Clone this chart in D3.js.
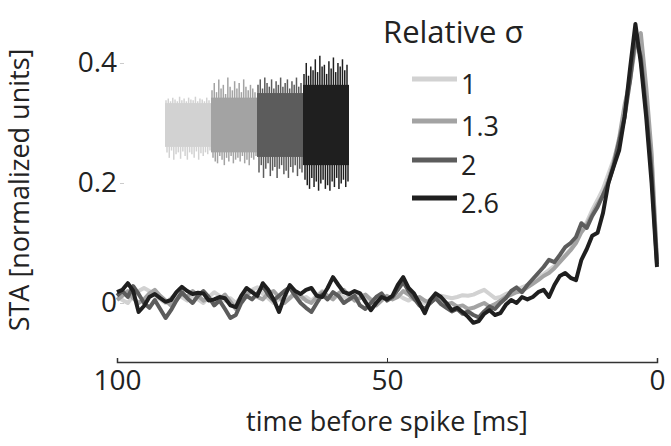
<!DOCTYPE html>
<html>
<head>
<meta charset="utf-8">
<script src="https://cdn.jsdelivr.net/npm/d3@7"></script>
<style>
  body { margin: 0; background: #fff; }
  svg text { font-family: "Open Sans", "Noto Sans", sans-serif; fill: #222; }
</style>
</head>
<body>
<div id="chart"></div>
<script>
// Data ==================================================================

// time before spike, ms (100 ... 0)
var times = d3.range(100, -1, -1);

var sigmaLabels = ['1', '1.3', '2', '2.6'];
var lineColors = ['#d2d2d2', '#a3a3a3', '#5c5c5c', '#1f1f1f'];

var xTicks = [100, 50, 0];
var yTicks = [0, 0.2, 0.4];

// STA values for t = 100 .. 0
var sta1 = [
	0.010, 0.005, 0.000, 0.012, 0.020, 0.025, 0.020, 0.012, 0.006, 0.000,
	0.008, 0.015, 0.010, 0.004, 0.012, 0.006, 0.000, 0.010, 0.018, 0.012,
	0.004, 0.008, 0.000, 0.010, 0.018, 0.022, 0.026, 0.015, 0.008, 0.000,
	0.006, 0.012, 0.008, 0.014, 0.006, 0.010, 0.004, 0.012, 0.020, 0.012,
	0.008, 0.014, 0.010, 0.005, 0.012, 0.016, 0.010, 0.004, 0.008, 0.012,
	0.006, 0.010, 0.014, 0.008, 0.004, 0.010, 0.006, 0.000, 0.005, 0.010,
	0.012, 0.010, 0.008, 0.010, 0.013, 0.012, 0.014, 0.018, 0.022, 0.015,
	0.008, 0.010, 0.015, 0.018, 0.022, 0.026, 0.030, 0.035, 0.042, 0.048,
	0.055, 0.062, 0.070, 0.080, 0.090, 0.105, 0.120, 0.135, 0.155, 0.172,
	0.190, 0.215, 0.240, 0.270, 0.320, 0.380, 0.440, 0.430, 0.340, 0.240,
	0.070
];
var sta13 = [
	0.005, 0.012, 0.020, 0.008, 0.000, 0.006, 0.016, 0.022, 0.012, 0.004,
	-0.004, 0.006, 0.015, 0.010, 0.020, 0.012, 0.004, 0.008, 0.000, 0.006,
	0.014, 0.002, -0.010, 0.004, 0.014, 0.020, 0.010, 0.006, 0.016, 0.020,
	0.010, 0.000, 0.008, 0.018, 0.012, 0.004, 0.000, 0.010, 0.018, 0.012,
	0.006, 0.016, 0.022, 0.012, 0.004, 0.008, 0.014, 0.006, -0.004, 0.004,
	0.012, 0.006, 0.010, 0.020, 0.014, 0.006, 0.010, 0.004, 0.000, 0.008,
	0.004, -0.002, 0.000, -0.006, -0.004, -0.010, -0.008, -0.004, 0.000, -0.006,
	-0.002, 0.004, 0.010, 0.014, 0.018, 0.020, 0.026, 0.032, 0.038, 0.045,
	0.050, 0.058, 0.068, 0.078, 0.088, 0.100, 0.118, 0.130, 0.148, 0.165,
	0.180, 0.205, 0.235, 0.275, 0.330, 0.370, 0.430, 0.450, 0.360, 0.250,
	0.070
];
var sta2 = [
	0.012, 0.020, 0.010, 0.028, 0.015, 0.000, -0.008, 0.005, -0.010, -0.025,
	-0.012, 0.004, 0.018, 0.008, 0.000, 0.012, 0.020, 0.010, -0.004, 0.004,
	-0.010, -0.025, -0.020, 0.000, 0.012, 0.006, 0.016, 0.028, 0.014, 0.004,
	0.012, 0.020, 0.026, 0.012, 0.000, -0.008, -0.015, 0.000, 0.014, 0.006,
	0.018, 0.012, 0.000, 0.006, 0.012, -0.004, -0.010, 0.000, 0.010, 0.016,
	0.004, 0.010, 0.022, 0.035, 0.020, 0.008, -0.004, -0.010, 0.000, 0.008,
	-0.002, -0.008, -0.014, -0.010, -0.018, -0.014, -0.020, -0.024, -0.014, -0.006,
	-0.010, 0.000, 0.008, 0.020, 0.026, 0.018, 0.030, 0.040, 0.050, 0.060,
	0.072, 0.068, 0.080, 0.093, 0.100, 0.110, 0.133, 0.125, 0.145, 0.160,
	0.180, 0.200, 0.230, 0.270, 0.310, 0.370, 0.445, 0.410, 0.320, 0.220,
	0.065
];
var sta26 = [
	0.018, 0.022, 0.033, 0.020, -0.015, -0.005, 0.010, 0.015, 0.008, 0.002,
	0.005, 0.018, 0.027, 0.020, 0.015, 0.017, 0.016, 0.004, 0.006, 0.010,
	0.008, -0.004, -0.007, 0.012, 0.025, 0.018, 0.012, 0.033, 0.022, 0.006,
	-0.015, 0.010, 0.030, 0.020, 0.015, 0.022, 0.025, 0.012, 0.010, 0.025,
	0.043, 0.030, 0.018, 0.015, 0.020, 0.016, 0.002, -0.012, 0.000, 0.010,
	0.006, 0.012, 0.030, 0.043, 0.025, 0.016, 0.000, -0.017, 0.005, 0.016,
	0.010, 0.000, -0.012, -0.008, -0.015, -0.023, -0.033, -0.030, -0.018, -0.012,
	-0.020, -0.017, -0.003, 0.005, 0.000, 0.010, 0.006, 0.010, 0.018, 0.022,
	0.010, 0.030, 0.045, 0.050, 0.042, 0.038, 0.072, 0.090, 0.112, 0.117,
	0.150, 0.200, 0.228, 0.255, 0.310, 0.390, 0.465, 0.400, 0.310, 0.200,
	0.060
];
var series = [sta1, sta13, sta2, sta26];

// inset: stimulus noise, envelope of each block (in units of the lowest sigma)
var noiseCore = [1.2, 1.5, 1.75, 2.2];
var noiseTop1 = [1.35, 1.45, 1.3, 1.5, 1.4, 1.3, 1.55, 1.35, 1.45, 1.3, 1.5, 1.4, 1.35, 1.55, 1.3, 1.45, 1.4, 1.3, 1.5, 1.35];
var noiseBot1 = [1.5, 1.8, 1.4, 1.9, 1.6, 1.5, 1.85, 1.45, 1.7, 1.9, 1.5, 1.6, 1.8, 1.45, 1.9, 1.55, 1.7, 1.5, 1.6, 1.4];
var noiseTop13 = [1.9, 2.3, 1.8, 2.5, 2.0, 2.2, 1.7, 2.6, 2.1, 1.9, 2.4, 2.0, 2.3, 1.8, 2.5, 2.1, 1.9, 2.2, 2.0, 1.8];
var noiseBot13 = [1.8, 2.0, 2.1, 1.7, 1.9, 2.2, 1.8, 2.0, 1.7, 2.1, 1.9, 1.8, 2.0, 1.7, 2.1, 1.9, 2.2, 1.8, 1.9, 1.7];
var noiseTop2 = [2.2, 2.5, 2.0, 2.6, 2.3, 2.1, 2.5, 2.0, 2.4, 2.2, 2.6, 2.1, 2.3, 2.5, 2.0, 2.4, 2.2, 2.6, 2.1, 2.3];
var noiseBot2 = [2.6, 2.2, 2.9, 2.4, 2.1, 2.8, 2.5, 2.3, 2.9, 2.4, 2.2, 2.7, 2.5, 2.9, 2.3, 2.6, 2.2, 2.8, 2.4, 2.6];
var noiseTop26 = [2.8, 3.4, 2.7, 3.2, 3.0, 3.6, 2.9, 3.8, 3.2, 3.3, 2.8, 3.5, 3.1, 3.7, 2.9, 3.4, 3.2, 3.6, 3.0, 3.3];
var noiseBot26 = [3.0, 3.3, 3.5, 2.9, 3.4, 3.1, 3.6, 3.2, 3.0, 3.5, 3.3, 3.6, 3.1, 3.4, 2.9, 3.5, 3.2, 3.0, 3.4, 3.1];
var noiseTop = [noiseTop1, noiseTop13, noiseTop2, noiseTop26];
var noiseBot = [noiseBot1, noiseBot13, noiseBot2, noiseBot26];

// Chart =================================================================

var width = 671, height = 446;

var svg = d3.select('#chart').append('svg')
	.attr('width', width)
	.attr('height', height);

var x = d3.scaleLinear().domain([100, 0]).range([117, 657]);
var y = d3.scaleLinear().domain([0, 0.4]).range([303, 63]);

// x axis
var xAxis = svg.append('g')
	.attr('transform', 'translate(0,362)')
	.call(d3.axisBottom(x).tickValues(xTicks).tickSize(-4).tickPadding(8).tickFormat(d3.format('d')));
xAxis.select('.domain').attr('stroke', '#333').attr('stroke-width', 1.5);
xAxis.selectAll('.tick line').attr('stroke', '#333').attr('stroke-width', 1);
xAxis.selectAll('.tick text')
	.style('font-size', '28px')
	.attr('fill', '#222');

svg.append('text')
	.attr('x', x(50))
	.attr('y', 431)
	.attr('text-anchor', 'middle')
	.style('font-size', '27px')
	.text('time before spike [ms]');

// y axis (labels only, faint ticks)
var yAxis = svg.append('g')
	.attr('transform', 'translate(124,0)')
	.call(d3.axisLeft(y).tickValues(yTicks).tickSize(4).tickPadding(3).tickFormat(function (d) { return d === 0 ? '0' : d3.format('.1f')(d); }));
yAxis.select('.domain').remove();
yAxis.selectAll('.tick line').attr('stroke', '#ccc');
yAxis.selectAll('.tick text')
	.style('font-size', '28px')
	.attr('fill', '#222');

svg.append('text')
	.attr('transform', 'translate(29,' + 190 + ') rotate(-90)')
	.attr('text-anchor', 'middle')
	.style('font-size', '27px')
	.text('STA [normalized units]');

// inset noise blocks
var inset = svg.append('g').attr('class', 'inset');
var insetX = d3.scaleBand().domain(sigmaLabels).range([165, 349]).paddingInner(0);
var insetY = d3.scaleLinear().domain([-4, 4]).range([125 + 73, 125 - 73]);

sigmaLabels.forEach(function (s, i) {
	var g = inset.append('g');
	var x0 = insetX(s), bw = insetX.bandwidth();
	g.append('rect')
		.attr('x', x0)
		.attr('y', insetY(noiseCore[i]))
		.attr('width', bw)
		.attr('height', insetY(-noiseCore[i]) - insetY(noiseCore[i]))
		.attr('fill', lineColors[i]);
	var sx = d3.scaleLinear().domain([0, noiseTop[i].length - 1]).range([x0 + 1, x0 + bw - 2]);
	noiseTop[i].forEach(function (v, j) {
		g.append('line')
			.attr('x1', sx(j)).attr('x2', sx(j))
			.attr('y1', insetY(noiseCore[i]) + 1).attr('y2', insetY(v))
			.attr('stroke', lineColors[i]).attr('stroke-width', 1.5);
	});
	noiseBot[i].forEach(function (v, j) {
		g.append('line')
			.attr('x1', sx(j) + 1).attr('x2', sx(j) + 1)
			.attr('y1', insetY(-noiseCore[i]) - 1).attr('y2', insetY(-v))
			.attr('stroke', lineColors[i]).attr('stroke-width', 1.5);
	});
});

// STA lines
var line = d3.line()
	.x(function (d, i) { return x(times[i]); })
	.y(function (d) { return y(d); });

svg.append('g').selectAll('path')
	.data(series)
	.enter().append('path')
	.attr('d', line)
	.attr('fill', 'none')
	.attr('stroke', function (d, i) { return lineColors[i]; })
	.attr('stroke-width', 4)
	.attr('stroke-linejoin', 'round');

// legend
svg.append('text')
	.attr('x', 383)
	.attr('y', 43)
	.style('font-size', '31px')
	.text('Relative σ');

var legend = svg.append('g').selectAll('g')
	.data(sigmaLabels)
	.enter().append('g')
	.attr('transform', function (d, i) { return 'translate(412,' + [79, 121, 160, 198][i] + ')'; });

legend.append('line')
	.attr('x1', 0).attr('x2', 45)
	.attr('stroke', function (d, i) { return lineColors[i]; })
	.attr('stroke-width', 5);

legend.append('text')
	.attr('x', 49)
	.attr('y', 15)
	.style('font-size', '27px')
	.text(function (d) { return d; });
</script>
</body>
</html>
